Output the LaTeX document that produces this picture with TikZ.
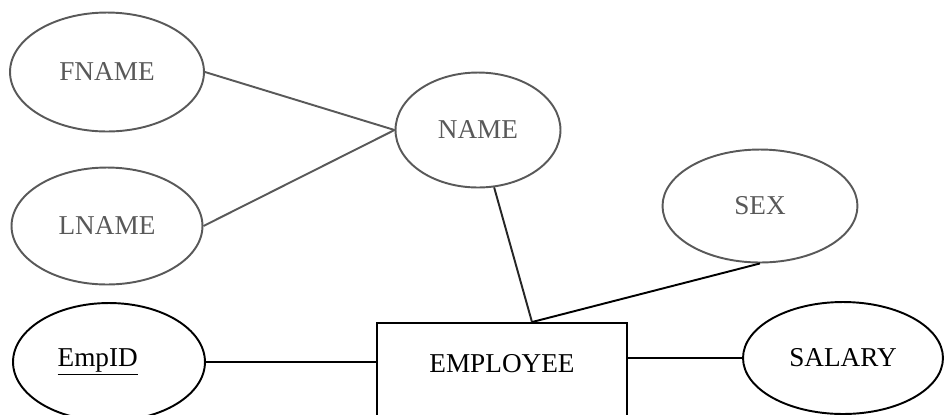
\documentclass[tikz,border=0pt]{standalone}
\usepackage{fontspec}
\setmainfont{Liberation Serif}
\usetikzlibrary{shapes.geometric}

\begin{document}
\begin{tikzpicture}[x=0.02cm, y=-0.02cm]

\tikzset{
  attr/.style={ellipse, draw, line width=1.1pt, inner sep=0pt, font=\fontsize{15.5}{18}\selectfont},
  faded/.style={draw=black!65, text=black!65},
  entbox/.style={draw, line width=1.1pt, inner sep=0pt, minimum width=5cm, text height=0.98cm, text depth=1.6cm, font=\fontsize{15.5}{18}\selectfont},
  lnk/.style={line width=1.1pt},
}

\useasboundingbox (0,0) rectangle (944,414);
\clip (0,0) rectangle (944,414);

\node[attr,faded,name=fname,minimum width=3.88cm,minimum height=2.38cm] at (107,72) {FNAME};
\node[attr,faded,name=lname,minimum width=3.82cm,minimum height=2.34cm] at (107,226) {LNAME};
\node[attr,faded,name=name,minimum width=3.3cm,minimum height=2.3cm] at (478,130) {NAME};
\node[attr,faded,name=sex,minimum width=3.9cm,minimum height=2.26cm] at (760,206) {SEX};
\node[attr,name=empid,minimum width=3.84cm,minimum height=2.36cm] at (109,362) {\raisebox{-0.2cm}{\underline{EmpID}}\kern0.45cm};
\node[attr,name=salary,minimum width=4cm,minimum height=2.24cm] at (843,358) {SALARY};
\node[entbox,name=emp,anchor=base] at (502,372) {EMPLOYEE};
\coordinate (join) at ([xshift=0.6cm]emp.north);

\draw[lnk,black!65] (fname.east) -- (name.west);
\draw[lnk,black!65] (lname.east) -- (name.west);
\draw[lnk,black!85] (name) -- (join);
\draw[lnk] (sex.south) -- (join);
\draw[lnk] (empid.east) -- (empid.east -| emp.west);
\draw[lnk] (emp.east |- salary.west) -- (salary.west);

\end{tikzpicture}
\end{document}
